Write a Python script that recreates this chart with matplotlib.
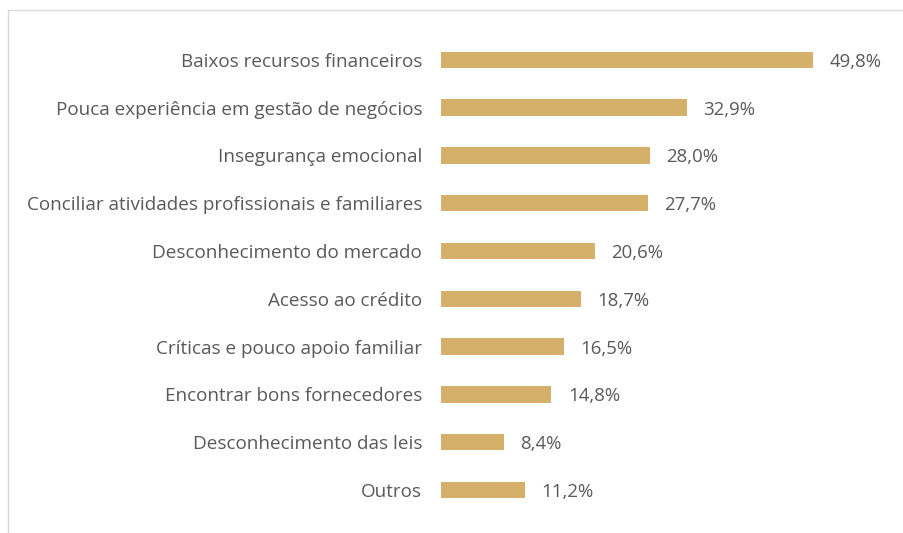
import matplotlib.pyplot as plt
from matplotlib.lines import Line2D

# Data
categories = ['Baixos recursos financeiros',
              'Pouca experiência em gestão de negócios',
              'Insegurança emocional',
              'Conciliar atividades profissionais e familiares',
              'Desconhecimento do mercado',
              'Acesso ao crédito',
              'Críticas e pouco apoio familiar',
              'Encontrar bons fornecedores',
              'Desconhecimento das leis',
              'Outros']
values = [49.8, 32.9, 28.0, 27.7, 20.6, 18.7, 16.5, 14.8, 8.4, 11.2]
value_labels = ['49,8%', '32,9%', '28,0%', '27,7%', '20,6%',
                '18,7%', '16,5%', '14,8%', '8,4%', '11,2%']

plt.rcParams['font.family'] = ['Open Sans', 'DejaVu Sans']
text_color = '#595959'
bar_color = '#D4B06A'

fig = plt.figure(figsize=(9.04, 5.33), dpi=100)
ax = fig.add_axes([0.4878, 0.0358, 0.4956, 0.8968])

y_pos = list(range(len(categories)))
ax.barh(y_pos, values, height=0.34, color=bar_color)
ax.set_ylim(len(categories) - 0.5, -0.5)
ax.set_xlim(0, 60)

ax.set_yticks(y_pos)
ax.set_yticklabels(categories, fontsize=13.6, color=text_color)
ax.tick_params(axis='y', length=0, pad=13.5)
ax.set_xticks([])
for s in ax.spines.values():
    s.set_visible(False)

for i, (v, lab) in enumerate(zip(values, value_labels)):
    ax.text(v + 2.2, i + 0.04, lab, va='center', ha='left', fontsize=13.4, color=text_color)

# light frame at top and left of the picture
fig.add_artist(Line2D([8 / 904, 1], [1 - 10 / 533, 1 - 10 / 533], color='#D9D9D9', lw=1))
fig.add_artist(Line2D([8 / 904, 8 / 904], [0, 1 - 10 / 533], color='#D9D9D9', lw=1))

fig.savefig('out.png', dpi=100)
